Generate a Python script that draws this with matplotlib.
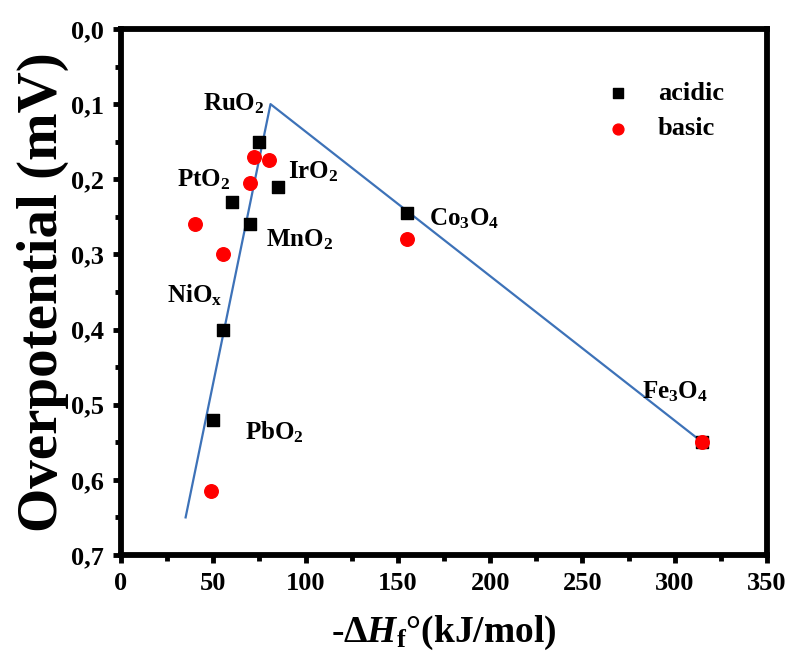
import matplotlib
matplotlib.use("Agg")
import matplotlib.pyplot as plt
from matplotlib.ticker import MultipleLocator, FuncFormatter

plt.rcParams['font.family'] = ['Liberation Serif', 'DejaVu Serif']
plt.rcParams['font.weight'] = 'bold'
plt.rcParams['axes.labelweight'] = 'bold'
plt.rcParams['mathtext.fontset'] = 'custom'
plt.rcParams['mathtext.rm'] = 'Liberation Serif:bold'
plt.rcParams['mathtext.it'] = 'Liberation Serif:italic:bold'
plt.rcParams['mathtext.bf'] = 'Liberation Serif:bold'

# data
acidic_x = [75, 85, 60, 70, 55, 50, 155, 315]
acidic_y = [0.15, 0.21, 0.23, 0.26, 0.40, 0.52, 0.245, 0.55]
basic_x = [72, 80, 70, 40, 55, 49, 155, 315]
basic_y = [0.17, 0.175, 0.205, 0.26, 0.30, 0.615, 0.28, 0.55]

# volcano line
volcano_x = [35, 81, 315]
volcano_y = [0.65, 0.10, 0.55]

oxide_names = ["RuO$_2$", "PtO$_2$", "IrO$_2$", "MnO$_2$", r"NiO$_\mathrm{x}$",
               "PbO$_2$", "Co$_3$O$_4$", "Fe$_3$O$_4$"]
name_x = [61, 45, 104, 97, 40, 83, 186, 300]
name_y = [0.10, 0.20, 0.19, 0.28, 0.354, 0.537, 0.252, 0.483]

fig = plt.figure(figsize=(7.92, 6.66), dpi=100)
ax = fig.add_axes([0.1528, 0.1667, 0.8156, 0.7898])

ax.plot(volcano_x, volcano_y, color='#3d72b8', lw=1.6, zorder=2)
ax.scatter(acidic_x, acidic_y, marker='s', s=75, color='black', label='acidic', zorder=3)
ax.scatter(basic_x, basic_y, marker='o', s=95, color='#ff0000', label='basic', zorder=3)

for name, tx, ty in zip(oxide_names, name_x, name_y):
    ax.text(tx, ty, name, fontsize=18, ha='center', va='center')

ax.set_xlim(0, 350)
ax.set_ylim(0.7, 0.0)
ax.xaxis.set_major_locator(MultipleLocator(50))
ax.xaxis.set_minor_locator(MultipleLocator(25))
ax.yaxis.set_major_locator(MultipleLocator(0.1))
ax.yaxis.set_minor_locator(MultipleLocator(0.05))
ax.yaxis.set_major_formatter(FuncFormatter(lambda v, p: f"{v:.1f}".replace('.', ',')))

for s in ax.spines.values():
    s.set_linewidth(4.2)
ax.tick_params(which='major', direction='out', length=6, width=3.5, labelsize=19, pad=6)
ax.tick_params(which='minor', direction='out', length=4, width=3.5)

ax.set_xlabel(r'-$\mathit{\Delta H}_\mathbf{f}$°(kJ/mol)', fontsize=27, labelpad=14)
ax.set_ylabel('Overpotential (mV)', fontsize=41, labelpad=2)

ax.legend(loc='upper right', bbox_to_anchor=(0.97, 0.945), frameon=False,
          fontsize=19, handletextpad=0.5, scatterpoints=1, markerscale=0.8,
          labelspacing=0.45)

fig.savefig('out.png', dpi=100)
